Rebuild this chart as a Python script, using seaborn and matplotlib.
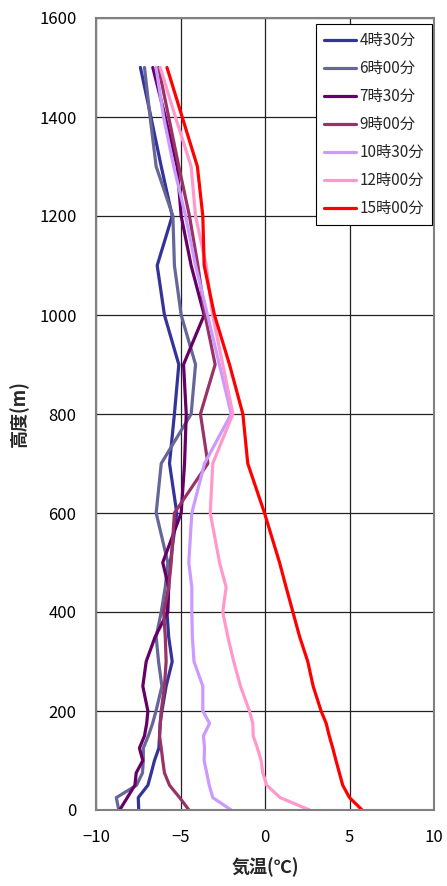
import matplotlib
matplotlib.use("Agg")
import matplotlib.pyplot as plt
import seaborn as sns
import pandas as pd

# Observation heights (m)
heights = [0, 25, 50, 75, 100, 125, 150, 175, 200, 250, 300, 350, 400, 450,
           500, 600, 700, 800, 900, 1000, 1100, 1200, 1300, 1400, 1500]

# Air temperature profiles (deg C) at each observation time
t0430 = [-7.47, -7.5, -6.93, -6.73, -6.54, -6.28, -6.24, -6.2, -6.1, -5.85, -5.49, -5.7, -5.8, -5.7,
         -5.6, -5.22, -5.65, -5.36, -5.10, -5.95, -6.38, -5.49, -6.14, -6.75, -7.37]
t0600 = [-8.65, -8.8, -7.6, -7.25, -7.2, -7.2, -6.9, -6.65, -6.45, -6.1, -6.3, -6.44, -6.14, -5.9,
         -5.75, -6.44, -6.14, -4.37, -4.11, -4.96, -5.36, -5.45, -6.44, -6.8, -7.13]
t0730 = [-8.6, -8.15, -7.7, -7.62, -7.23, -7.43, -7.13, -7.0, -6.93, -7.23, -7.03, -6.5, -5.75, -5.7,
         -6.05, -4.96, -4.76, -4.66, -4.82, -3.6, -4.37, -4.96, -5.2, -5.9, -6.64]
t0900 = [-4.5, -5.05, -5.65, -5.95, -6.05, -6.14, -6.24, -6.2, -6.14, -5.95, -5.85, -5.9, -6.0, -5.7,
         -5.55, -5.36, -3.38, -3.82, -2.95, -3.55, -3.97, -4.47, -5.1, -5.7, -6.3]
t1030 = [-2.0, -3.09, -3.3, -3.45, -3.6, -3.58, -3.64, -3.28, -3.68, -3.68, -4.2, -4.3, -4.33, -4.33,
         -4.51, -4.33, -3.58, -2.0, -2.7, -3.4, -4.11, -4.70, -5.4, -6.0, -6.45]
t1200 = [2.63, 0.9, 0.1, -0.13, -0.23, -0.45, -0.7, -0.72, -0.92, -1.45, -1.85, -2.2, -2.5, -2.3,
         -2.69, -3.24, -3.09, -1.9, -2.5, -3.1, -3.48, -4.11, -4.37, -5.3, -6.2]
t1500 = [5.75, 5.0, 4.6, 4.4, 4.2, 4.01, 3.8, 3.62, 3.32, 2.85, 2.53, 2.05, 1.65, 1.25,
         0.86, -0.03, -1.02, -1.31, -2.1, -2.99, -3.6, -3.68, -4.0, -4.9, -5.8]

times = ["4時30分", "6時00分", "7時30分", "9時00分", "10時30分", "12時00分", "15時00分"]
profiles = [t0430, t0600, t0730, t0900, t1030, t1200, t1500]
colors = ["#333399", "#666699", "#660066", "#993366", "#CC99FF", "#FF99CC", "#FF0000"]

x_ticks = [-10, -5, 0, 5, 10]
y_ticks = [0, 200, 400, 600, 800, 1000, 1200, 1400, 1600]

df = pd.DataFrame(
    [(t, h, v) for t, prof in zip(times, profiles) for h, v in zip(heights, prof)],
    columns=["time", "height", "temp"],
)

sns.set_style("white")
plt.rcParams["font.family"] = ["Noto Sans CJK JP", "DejaVu Sans"]

fig = plt.figure(figsize=(4.47, 8.86), dpi=100)
ax = fig.add_axes([96 / 447, 1 - 810 / 886, 338 / 447, 792 / 886])

sns.lineplot(data=df, x="temp", y="height", hue="time", hue_order=times,
             palette=dict(zip(times, colors)), sort=False, estimator=None,
             orient="y", linewidth=2.3, ax=ax, legend=True)

ax.set_xlim(-10, 10)
ax.set_ylim(0, 1600)
ax.set_xticks(x_ticks)
ax.set_yticks(y_ticks)
ax.set_xticklabels(["\u221210", "\u22125", "0", "5", "10"])
ax.tick_params(axis="both", labelsize=12, length=0, pad=14, colors="black")
ax.grid(True, color="#222222", linewidth=0.9)
ax.set_axisbelow(True)
for s in ax.spines.values():
    s.set_color("#808080")
    s.set_linewidth(1.5)

ax.set_xlabel("気温(℃)", fontsize=13, fontweight="bold", labelpad=8)
ax.set_ylabel("高度(m)", fontsize=13, fontweight="bold", labelpad=7)

leg = ax.legend(loc="upper right", bbox_to_anchor=(0.995, 0.993), fontsize=11,
                frameon=True, fancybox=False, framealpha=1, edgecolor="black",
                handlelength=2.1, handletextpad=0.2, labelspacing=0.72,
                borderpad=0.55, borderaxespad=0.0, title=None)
leg.get_frame().set_linewidth(0.8)
for line in leg.get_lines():
    line.set_linewidth(2.3)

fig.savefig("out.png", dpi=100)
